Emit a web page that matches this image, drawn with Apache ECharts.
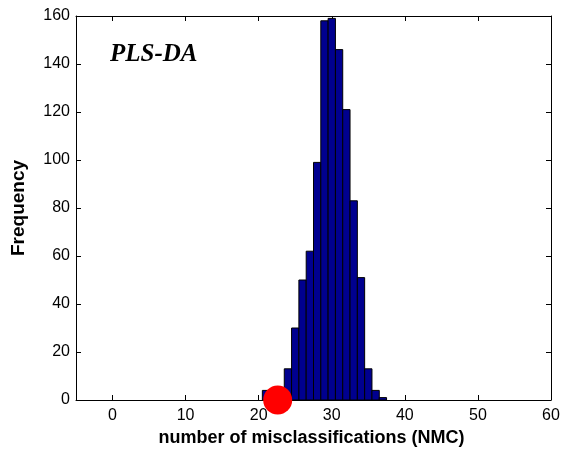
<!DOCTYPE html>
<html>
<head>
<meta charset="utf-8">
<script src="https://cdn.jsdelivr.net/npm/echarts@6/dist/echarts.min.js"></script>
<style>
html,body{margin:0;padding:0;background:#fff;}
#chart{width:565px;height:452px;}
</style>
</head>
<body>
<div id="chart"></div>
<script>
// Histogram of NMC values from permutation test
const bins = [21, 22, 23, 24, 25, 26, 27, 28, 29, 30, 31, 32, 33, 34, 35, 36, 37];
const counts = [4, 4, 2, 13, 30, 50, 62, 99, 158, 159, 146, 121, 83, 51, 13, 4, 1];
// NMC of the real model
const nmcPoint = [22.6, 0];
const xTicks = [0, 10, 20, 30, 40, 50, 60];
const yTicks = [0, 20, 40, 60, 80, 100, 120, 140, 160];

const histData = bins.map((b, i) => [b, counts[i]]);

const chart = echarts.init(document.getElementById('chart'), null, {renderer: 'canvas'});
const font = '"Liberation Sans", Arial, Helvetica, sans-serif';
const tickCommon = {inside: true, length: 5, lineStyle: {color: '#000', width: 1}};

chart.setOption({
  animation: false,
  backgroundColor: '#fff',
  grid: {left: 76, right: 14, top: 16, bottom: 50, containLabel: false},
  xAxis: [{
    type: 'value', min: -5, max: 60, position: 'bottom',
    name: 'number of misclassifications (NMC)', nameLocation: 'middle', nameGap: 29,
    nameTextStyle: {fontFamily: font, fontSize: 18, fontWeight: 'bold', color: '#000', padding: [0, 4, 0, 0]},
    axisLine: {show: true, onZero: false, lineStyle: {color: '#000', width: 1}},
    axisTick: Object.assign({customValues: xTicks}, tickCommon),
    axisLabel: {customValues: xTicks, fontFamily: font, fontSize: 16, color: '#000', margin: 8},
    splitLine: {show: false}
  }, {
    type: 'value', min: -5, max: 60, position: 'top',
    axisLine: {show: true, onZero: false, lineStyle: {color: '#000', width: 1}},
    axisTick: Object.assign({customValues: xTicks}, tickCommon),
    axisLabel: {show: false},
    splitLine: {show: false}
  }],
  yAxis: [{
    type: 'value', min: 0, max: 160, interval: 20, position: 'left',
    name: 'Frequency', nameLocation: 'middle', nameGap: 48, nameRotate: 90,
    nameTextStyle: {fontFamily: font, fontSize: 19, fontWeight: 'bold', color: '#000'},
    axisLine: {show: true, onZero: false, lineStyle: {color: '#000', width: 1}},
    axisTick: tickCommon,
    axisLabel: {customValues: yTicks, fontFamily: font, fontSize: 16, color: '#000', margin: 6},
    splitLine: {show: false}
  }, {
    type: 'value', min: 0, max: 160, interval: 20, position: 'right',
    axisLine: {show: true, onZero: false, lineStyle: {color: '#000', width: 1}},
    axisTick: tickCommon,
    axisLabel: {show: false},
    splitLine: {show: false}
  }],
  graphic: [{
    type: 'text', left: 110, top: 42,
    style: {text: 'PLS-DA', font: 'italic bold 25px "Liberation Serif", "Times New Roman", serif', fill: '#000'}
  }],
  series: [{
    type: 'custom',
    xAxisIndex: 0, yAxisIndex: 0,
    data: histData,
    renderItem: function (params, api) {
      const x = api.value(0), y = api.value(1);
      const p0 = api.coord([x - 0.5, y]);
      const p1 = api.coord([x + 0.5, 0]);
      return {
        type: 'rect',
        shape: {x: p0[0], y: p0[1], width: p1[0] - p0[0], height: p1[1] - p0[1]},
        style: {fill: '#00008f', stroke: '#000', lineWidth: 1}
      };
    },
    z: 2
  }, {
    type: 'scatter',
    xAxisIndex: 0, yAxisIndex: 0,
    data: [nmcPoint],
    symbol: 'circle', symbolSize: 29,
    itemStyle: {color: '#ff0000', opacity: 1},
    clip: false,
    z: 5
  }]
});
</script>
</body>
</html>
